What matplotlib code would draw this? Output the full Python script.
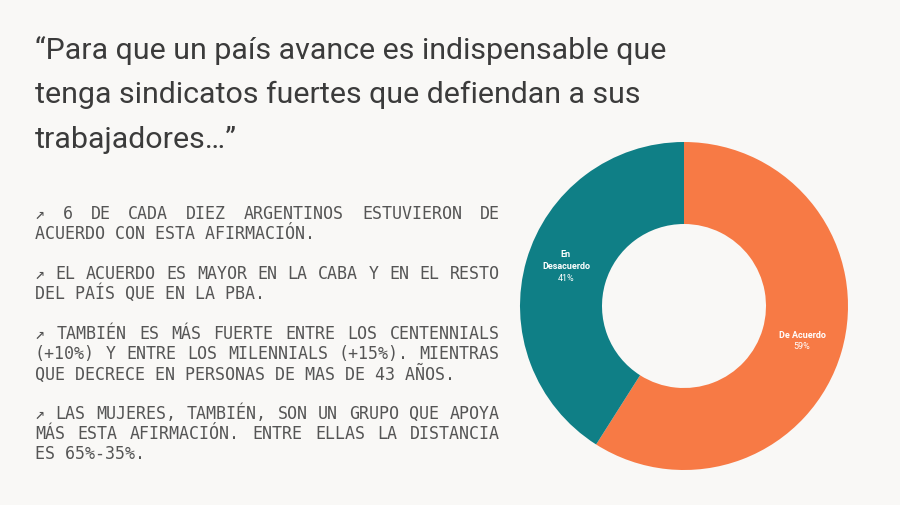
import matplotlib
matplotlib.use("Agg")
import matplotlib.pyplot as plt
import numpy as np

# datos
categorias = ["De Acuerdo", "En\nDesacuerdo"]
valores = [59, 41]
colores = ["#F77A45", "#0F7F86"]

titulo = ["\u201cPara que un país avance es indispensable que",
          "tenga sindicatos fuertes que defiendan a sus",
          "trabajadores\u2026\u201d"]

parrafos = [
    ["\u2197 6 DE CADA DIEZ ARGENTINOS ESTUVIERON DE",
     "ACUERDO CON ESTA AFIRMACIÓN."],
    ["\u2197 EL ACUERDO ES MAYOR EN LA CABA Y EN EL RESTO",
     "DEL PAÍS QUE EN LA PBA."],
    ["\u2197 TAMBIÉN ES MÁS FUERTE ENTRE LOS CENTENNIALS",
     "(+10%) Y ENTRE LOS MILENNIALS (+15%). MIENTRAS",
     "QUE DECRECE EN PERSONAS DE MAS DE 43 AÑOS."],
    ["\u2197 LAS MUJERES, TAMBIÉN, SON UN GRUPO QUE APOYA",
     "MÁS ESTA AFIRMACIÓN. ENTRE ELLAS LA DISTANCIA",
     "ES 65%-35%."],
]

W, H = 900, 506
fondo = "#F9F8F6"
fig = plt.figure(figsize=(W / 100, H / 100), dpi=100, facecolor=fondo)

# titulo
for i, linea in enumerate(titulo):
    fig.text(35 / W, 1 - (50 + 45 * i) / H, linea, fontsize=21.9,
             family=["Roboto", "DejaVu Sans"], color="#3b3b3b", va="center", ha="left")

# texto justificado (monoespaciado)
fs = 12
char_w = 0.602 * fs * 100 / 72
x0, x1 = 35, 500
y = 214
mono = ["DejaVu Sans Mono"]
for p in parrafos:
    for j, linea in enumerate(p):
        palabras = linea.split(" ")
        ultima = j == len(p) - 1
        if ultima or len(palabras) == 1:
            fig.text(x0 / W, 1 - y / H, linea, fontsize=fs, family=mono,
                     color="#555555", va="center", ha="left")
        else:
            ancho = sum(len(w) for w in palabras) * char_w
            gap = (x1 - x0 - ancho) / (len(palabras) - 1)
            x = x0
            for w in palabras:
                fig.text(x / W, 1 - y / H, w, fontsize=fs, family=mono,
                         color="#555555", va="center", ha="left")
                x += len(w) * char_w + gap
        y += 20
    y += 20

# dona
cx, cy, r = 684, 307, 164
ax = fig.add_axes([(cx - r) / W, (H - cy - r) / H, 2 * r / W, 2 * r / H])
ax.set_facecolor(fondo)
wedges, _ = ax.pie(valores, colors=colores, startangle=90, counterclock=False,
                   radius=1, wedgeprops=dict(width=0.5, edgecolor="none"))
ax.set_aspect("equal")
ax.set_xlim(-1, 1)
ax.set_ylim(-1, 1)
ax.axis("off")

for wdg, cat, v in zip(wedges, categorias, valores):
    ang = np.deg2rad((wdg.theta1 + wdg.theta2) / 2)
    tx, ty = 0.75 * np.cos(ang), 0.75 * np.sin(ang)
    ax.text(tx, ty + 0.01, cat, ha="center", va="bottom", fontsize=6.5,
            fontweight="bold", color="white", family=["Roboto", "DejaVu Sans"],
            linespacing=1.5)
    ax.text(tx, ty - 0.005, f"{v}%", ha="center", va="top", fontsize=6.5,
            color="white", family=["Roboto", "DejaVu Sans"])

fig.savefig("out.png", dpi=100, facecolor=fondo)
